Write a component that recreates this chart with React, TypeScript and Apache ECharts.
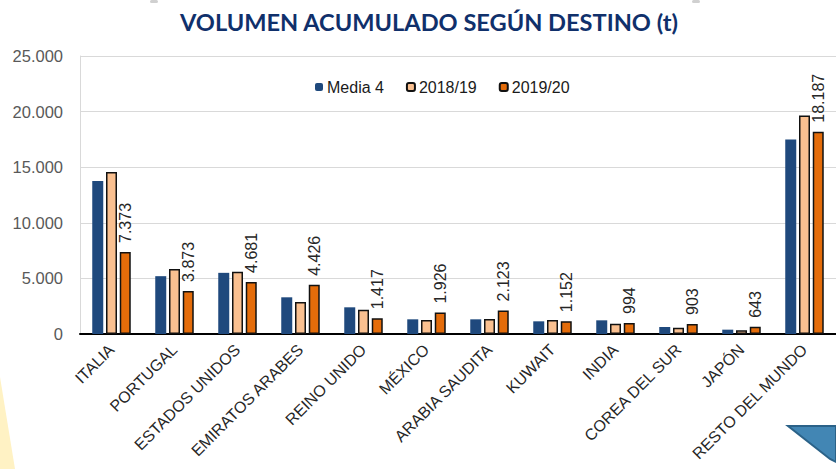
import React, { useEffect, useRef } from "react";
import * as echarts from "echarts";

const categories = [
  "ITALIA",
  "PORTUGAL",
  "ESTADOS UNIDOS",
  "EMIRATOS ARABES",
  "REINO UNIDO",
  "MÉXICO",
  "ARABIA SAUDITA",
  "KUWAIT",
  "INDIA",
  "COREA DEL SUR",
  "JAPÓN",
  "RESTO DEL MUNDO",
];
const media4 = [13750, 5200, 5500, 3300, 2400, 1320, 1320, 1140, 1230, 630, 390, 17500];
const s201819 = [14570, 5850, 5600, 2880, 2190, 1260, 1350, 1260, 930, 570, 330, 19650];
const s201920 = [7373, 3873, 4681, 4426, 1417, 1926, 2123, 1152, 994, 903, 643, 18187];
const seriesNames = ["Media 4", "2018/19", "2019/20"];
const yTicks = [0, 5000, 10000, 15000, 20000, 25000];

const fmt = (v: number) => String(Math.round(v)).replace(/\B(?=(\d{3})+(?!\d))/g, ".");

export default function App() {
  const ref = useRef<HTMLDivElement>(null);
  useEffect(() => {
    if (!ref.current) return;
    const chart = echarts.init(ref.current, undefined, { renderer: "svg" });
    const font = "'Liberation Sans', Arial, sans-serif";
    chart.setOption({
      animation: false,
      backgroundColor: "#ffffff",
      title: {
        text: "VOLUMEN ACUMULADO SEGÚN DESTINO (t)",
        left: 175,
        top: 5,
        textStyle: {
          fontFamily: "Lato, sans-serif",
          fontWeight: "bold",
          fontSize: 23.6,
          color: "#10306b",
        },
      },
      legend: {
        left: 310,
        top: 74,
        itemWidth: 8,
        itemHeight: 8,
        itemGap: 22,
        textStyle: { fontFamily: font, fontSize: 16, color: "#1a1a1a", padding: [0, 0, 0, -1] },
        data: seriesNames,
      },
      grid: { left: 80, right: 0, top: 56, bottom: 135, containLabel: false },
      xAxis: {
        type: "category",
        data: categories,
        axisLine: { lineStyle: { color: "#000000", width: 2 } },
        axisTick: { show: false },
        axisLabel: {
          rotate: 45,
          interval: 0,
          margin: 13,
          fontFamily: font,
          fontSize: 16,
          color: "#262626",
        },
      },
      yAxis: {
        type: "value",
        min: yTicks[0],
        max: yTicks[yTicks.length - 1],
        interval: 5000,
        axisLine: { show: true, lineStyle: { color: "#d9d9d9", width: 1 } },
        axisTick: { show: false },
        splitLine: { lineStyle: { color: "#d9d9d9", width: 1 } },
        axisLabel: {
          margin: 17,
          fontFamily: font,
          fontSize: 16.5,
          color: "#595959",
          formatter: (v: number) => fmt(v),
        },
      },
      series: [
        {
          name: seriesNames[0],
          type: "bar",
          data: media4,
          barWidth: 11,
          barGap: "25%",
          itemStyle: { color: "#1f497d" },
        },
        {
          name: seriesNames[1],
          type: "bar",
          data: s201819,
          barWidth: 11,
          barGap: "25%",
          itemStyle: { color: "#fac090", borderColor: "#111111", borderWidth: 1.5 },
        },
        {
          name: seriesNames[2],
          type: "bar",
          data: s201920,
          barWidth: 11,
          barGap: "25%",
          itemStyle: { color: "#e46c0a", borderColor: "#111111", borderWidth: 1.5 },
          label: {
            show: true,
            position: "top",
            rotate: 90,
            align: "left",
            verticalAlign: "middle",
            distance: 9,
            fontFamily: font,
            fontSize: 16,
            color: "#262626",
            formatter: (p: any) => fmt(p.value),
          },
        },
      ],
      graphic: [
        {
          type: "polygon",
          shape: { points: [[0, 377], [15, 469], [0, 469]] },
          style: { fill: "#fff2c4" },
          silent: true,
        },
        {
          type: "polygon",
          shape: { points: [[788, 426], [836, 426], [836, 462], [830, 459]] },
          style: { fill: "#4286b4", stroke: "#2b6288", lineWidth: 2 },
          silent: true,
        },
        {
          type: "rect",
          shape: { x: 150, y: 0, width: 8, height: 3, r: 2 },
          style: { fill: "#d0d0d0" },
          silent: true,
        },
        {
          type: "rect",
          shape: { x: 692, y: 0, width: 8, height: 3, r: 2 },
          style: { fill: "#d0d0d0" },
          silent: true,
        },
      ],
    });
    return () => chart.dispose();
  }, []);
  return (
    <div
      ref={ref}
      style={{ position: "fixed", left: 0, top: 0, width: 836, height: 469 }}
    />
  );
}
